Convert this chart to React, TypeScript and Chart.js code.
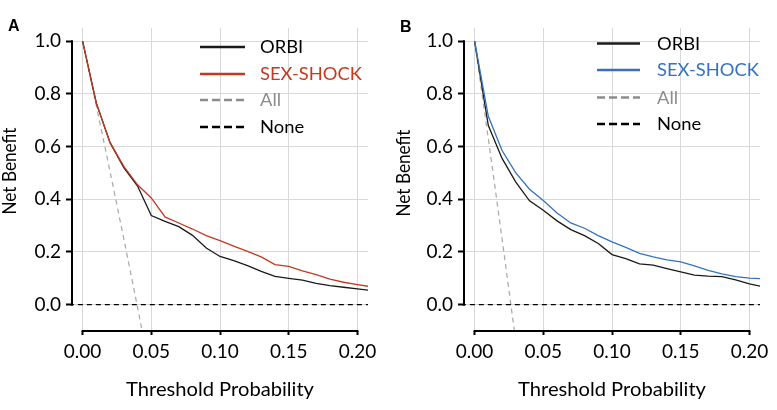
import React, { useEffect, useRef } from "react";
import { Chart, registerables } from "chart.js";

Chart.register(...registerables);

// ---------- data ----------
const thresholds = [0, 0.01, 0.02, 0.03, 0.04, 0.05, 0.06, 0.07, 0.08, 0.09, 0.1, 0.11, 0.12, 0.13, 0.14, 0.15, 0.16, 0.17, 0.18, 0.19, 0.2, 0.21];

const orbiA = [1.0, 0.765, 0.615, 0.52, 0.45, 0.338, 0.316, 0.296, 0.263, 0.215, 0.183, 0.167, 0.148, 0.126, 0.107, 0.1, 0.093, 0.081, 0.072, 0.066, 0.06, 0.054];
const sexShockA = [1.0, 0.765, 0.615, 0.525, 0.455, 0.405, 0.333, 0.31, 0.287, 0.262, 0.243, 0.222, 0.202, 0.181, 0.152, 0.145, 0.128, 0.114, 0.097, 0.085, 0.076, 0.068];
const allThresholdsA = [0, 0.01, 0.02, 0.03, 0.04, 0.05];
const allA = [1.0, 0.755, 0.505, 0.25, -0.01, -0.28];

const orbiB = [1.0, 0.68, 0.555, 0.465, 0.394, 0.358, 0.318, 0.285, 0.262, 0.232, 0.19, 0.175, 0.155, 0.15, 0.137, 0.124, 0.112, 0.108, 0.106, 0.094, 0.079, 0.068];
const sexShockB = [1.0, 0.715, 0.585, 0.5, 0.438, 0.395, 0.348, 0.31, 0.29, 0.262, 0.238, 0.217, 0.195, 0.181, 0.17, 0.162, 0.147, 0.13, 0.117, 0.106, 0.101, 0.098];
const allThresholdsB = [0, 0.01, 0.02, 0.03];
const allB = [1.0, 0.63, 0.25, -0.14];

const noneThresholds = [-0.01, 0.21];
const noneValues = [0, 0];

const xTicks = [0, 0.05, 0.1, 0.15, 0.2];
const yTicks = [0, 0.2, 0.4, 0.6, 0.8, 1.0];
const seriesNames = ["ORBI", "SEX-SHOCK", "All", "None"];

// ---------- styling ----------
const FONT = "Lato, 'Open Sans', sans-serif";
const RED = "#C4391F";
const BLUE = "#3472C0";
const DARK = "#1a1a1a";
const GREY = "#a8a8a8";

type PanelProps = {
  left: number;
  letter: string;
  orbi: number[];
  sex: number[];
  allX: number[];
  all: number[];
  sexColor: string;
  legendRows: number[];
  legendLineX: [number, number];
  legendTextX: number;
  letterY: number;
  yTitleX: number;
  yTitleY: number;
};

const toXY = (xs: number[], ys: number[]) => xs.map((x, i) => ({ x, y: ys[i] }));

// draw text squeezed/stretched horizontally to a given width
function fitText(ctx: CanvasRenderingContext2D, text: string, x: number, y: number, width: number) {
  const w = ctx.measureText(text).width;
  const k = width / w;
  ctx.save();
  ctx.translate(x, y);
  ctx.scale(k, 1);
  ctx.fillText(text, 0, 0);
  ctx.restore();
}

function Panel(p: PanelProps) {
  const ref = useRef<HTMLCanvasElement>(null);
  useEffect(() => {
    if (!ref.current) return;
    const decor = {
      id: "decor",
      afterDraw(chart: any) {
        const { ctx, chartArea, scales } = chart;
        const xs = scales.x;
        const ys = scales.y;
        ctx.save();
        // capped axis lines
        ctx.strokeStyle = "#000";
        ctx.lineWidth = 2;
        ctx.setLineDash([]);
        const ax = chartArea.left;
        ctx.beginPath();
        ctx.moveTo(ax, ys.getPixelForValue(yTicks[yTicks.length - 1]) - 1);
        ctx.lineTo(ax, ys.getPixelForValue(yTicks[0]) + 1);
        ctx.stroke();
        const ay = chartArea.bottom;
        ctx.beginPath();
        ctx.moveTo(xs.getPixelForValue(xTicks[0]) - 1, ay);
        ctx.lineTo(xs.getPixelForValue(xTicks[xTicks.length - 1]) + 1, ay);
        ctx.stroke();

        // legend
        const legendStyles = [
          { color: DARK, text: "#000", dash: [] as number[] },
          { color: p.sexColor, text: p.sexColor, dash: [] as number[] },
          { color: "#8c8c8c", text: "#8c8c8c", dash: [8, 4] },
          { color: "#000", text: "#000", dash: [8, 4] },
        ];
        ctx.font = `17px ${FONT}`;
        ctx.textAlign = "left";
        ctx.textBaseline = "middle";
        seriesNames.forEach((name, i) => {
          const st = legendStyles[i];
          const y = p.legendRows[i];
          ctx.strokeStyle = st.color;
          ctx.lineWidth = 2.6;
          ctx.setLineDash(st.dash);
          ctx.beginPath();
          ctx.moveTo(p.legendLineX[0], y);
          ctx.lineTo(p.legendLineX[1], y);
          ctx.stroke();
          ctx.setLineDash([]);
          ctx.fillStyle = st.text;
          const w = ctx.measureText(name).width;
          fitText(ctx, name, p.legendTextX, y + 1, w * 1.08);
        });

        // axis titles
        ctx.fillStyle = "#000";
        ctx.font = `19px ${FONT}`;
        ctx.textAlign = "center";
        ctx.textBaseline = "middle";
        fitText(ctx, "Threshold Probability", (chartArea.left + chartArea.right) / 2, 390, 188);
        ctx.font = `18.5px ${FONT}`;
        ctx.save();
        ctx.translate(p.yTitleX, p.yTitleY);
        ctx.rotate(-Math.PI / 2);
        fitText(ctx, "Net Benefit", 0, 0, 87);
        ctx.restore();

        // panel letter
        ctx.font = "bold 16px 'Liberation Sans', Arial, sans-serif";
        ctx.textAlign = "left";
        ctx.textBaseline = "alphabetic";
        ctx.fillText(p.letter, 8, p.letterY);
        ctx.restore();
      },
    };

    const chart = new Chart(ref.current, {
      type: "line",
      data: {
        datasets: [
          {
            label: "SEX-SHOCK",
            data: toXY(thresholds, p.sex),
            borderColor: p.sexColor,
            borderWidth: 1.3,
            pointRadius: 0,
            tension: 0,
          },
          {
            label: "ORBI",
            data: toXY(thresholds, p.orbi),
            borderColor: DARK,
            borderWidth: 1.3,
            pointRadius: 0,
            tension: 0,
          },
          {
            label: "None",
            data: toXY(noneThresholds, noneValues),
            borderColor: "#000",
            borderWidth: 1.3,
            borderDash: [5, 4],
            pointRadius: 0,
          },
          {
            label: "All",
            data: toXY(p.allX, p.all),
            borderColor: GREY,
            borderWidth: 1.2,
            borderDash: [5, 4],
            pointRadius: 0,
          },
        ],
      },
      options: {
        animation: false,
        responsive: false,
        devicePixelRatio: 1,
        layout: { padding: { top: 28, right: 22, left: 0, bottom: 0 } },
        plugins: { legend: { display: false }, tooltip: { enabled: false } },
        scales: {
          x: {
            type: "linear",
            min: -0.0077,
            max: 0.2077,
            afterBuildTicks: (s: any) => {
              s.ticks = xTicks.map((v) => ({ value: v }));
            },
            afterFit: (s: any) => {
              s.height = 79;
            },
            grid: {
              color: "#d8d8d8",
              lineWidth: 1,
              drawTicks: true,
              tickLength: 4,
              tickColor: "#000",
              tickWidth: 2,
            },
            border: { display: false },
            ticks: {
              color: "#000",
              font: { family: FONT, size: 19 },
              padding: 5,
              maxRotation: 0,
              callback: (v: any) => Number(v).toFixed(2),
            },
          },
          y: {
            type: "linear",
            min: -0.1,
            max: 1.05,
            afterBuildTicks: (s: any) => {
              s.ticks = yTicks.map((v) => ({ value: v }));
            },
            afterFit: (s: any) => {
              s.width = 72;
            },
            grid: {
              color: "#d8d8d8",
              lineWidth: 1,
              drawTicks: true,
              tickLength: 6,
              tickColor: "#000",
              tickWidth: 2,
            },
            border: { display: false },
            ticks: {
              color: "#000",
              font: { family: FONT, size: 19 },
              padding: 5,
              callback: (v: any) => Number(v).toFixed(1),
            },
          },
        },
      },
      plugins: [decor],
    });
    return () => chart.destroy();
  }, []);
  return (
    <canvas
      ref={ref}
      width={390}
      height={410}
      style={{ position: "absolute", left: p.left, top: 0, width: 390, height: 410 }}
    />
  );
}

export default function App() {
  return (
    <div style={{ position: "fixed", left: 0, top: 0, width: 777, height: 410, background: "#fff", overflow: "hidden" }}>
      <Panel
        left={0}
        letter="A"
        orbi={orbiA}
        sex={sexShockA}
        allX={allThresholdsA}
        all={allA}
        sexColor={RED}
        legendRows={[47, 74, 100, 127]}
        legendLineX={[200, 245]}
        legendTextX={260}
        letterY={31}
        yTitleX={10}
        yTitleY={171}
      />
      <Panel
        left={392}
        letter="B"
        orbi={orbiB}
        sex={sexShockB}
        allX={allThresholdsB}
        all={allB}
        sexColor={BLUE}
        legendRows={[43.5, 70, 97.5, 124]}
        legendLineX={[205, 248]}
        legendTextX={265}
        letterY={32}
        yTitleX={12}
        yTitleY={173}
      />
    </div>
  );
}
